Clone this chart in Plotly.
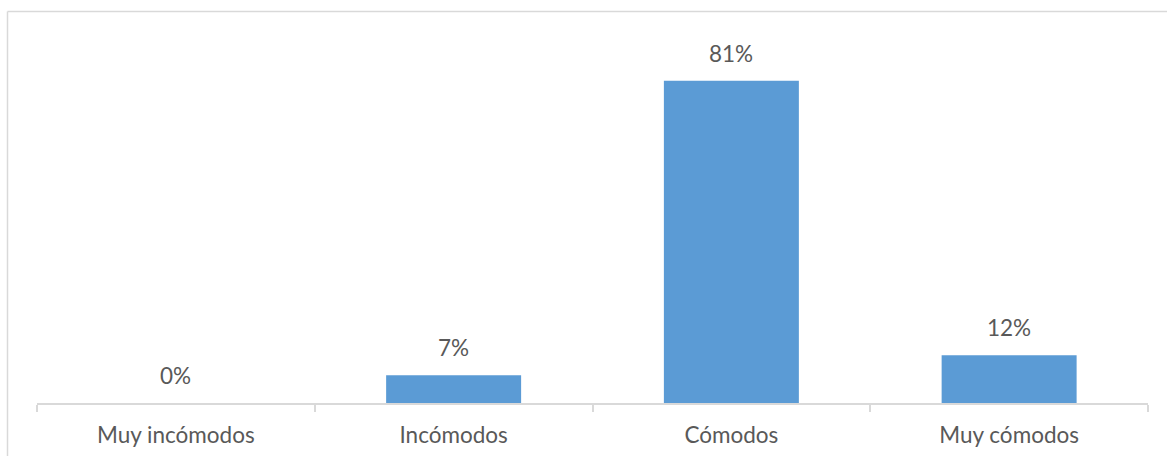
import plotly.graph_objects as go

categories = ["Muy incómodos", "Incómodos", "Cómodos", "Muy cómodos"]
percentages = [0, 7, 81, 12]
value_labels = ["0%", "7%", "81%", "12%"]

BAR_COLOR = "#5B9BD5"
TEXT_COLOR = "#595959"
LINE_COLOR = "#D9D9D9"
FONT = "Lato"
FONT_SIZE = 22.5

W, H = 1167, 456
M_L, M_R, M_T, M_B = 37, 19, 23, 53

fig = go.Figure(
    go.Bar(
        x=categories,
        y=percentages,
        marker=dict(color=BAR_COLOR, line=dict(width=0)),
        width=0.486,
        hoverinfo="skip",
    )
)

# value labels above each bar
for cat, val, lab in zip(categories, percentages, value_labels):
    fig.add_annotation(
        x=cat, y=val, text=lab, showarrow=False,
        yanchor="bottom", yshift=12,
        font=dict(family=FONT, size=FONT_SIZE, color=TEXT_COLOR),
    )

# chart frame (left and top edges)
plot_w = W - M_L - M_R
plot_h = H - M_T - M_B
x_left = (7.5 - M_L) / plot_w
y_top = (H - M_B - 11.5) / plot_h
fig.add_shape(type="line", xref="paper", yref="paper",
              x0=x_left, x1=1.2, y0=y_top, y1=y_top,
              line=dict(color=LINE_COLOR, width=1.5))
fig.add_shape(type="line", xref="paper", yref="paper",
              x0=x_left, x1=x_left, y0=y_top, y1=-0.3,
              line=dict(color=LINE_COLOR, width=1.5))

fig.update_layout(
    width=W, height=H,
    margin=dict(l=M_L, r=M_R, t=M_T, b=M_B, pad=0, autoexpand=False),
    paper_bgcolor="white", plot_bgcolor="white",
    showlegend=False,
    font=dict(family=FONT, size=FONT_SIZE, color=TEXT_COLOR),
)
fig.update_xaxes(
    type="category", automargin=False,
    showline=True, linecolor=LINE_COLOR, linewidth=1.5,
    ticks="outside", tickson="boundaries", ticklen=7, tickcolor=LINE_COLOR, tickwidth=1.5,
    showgrid=False, zeroline=False,
    tickfont=dict(family=FONT, size=FONT_SIZE, color=TEXT_COLOR),
    ticklabelstandoff=11,
)
fig.update_yaxes(
    range=[0, 95.5], visible=False, showgrid=False, zeroline=False, automargin=False,
)

fig.write_html("out.html")
